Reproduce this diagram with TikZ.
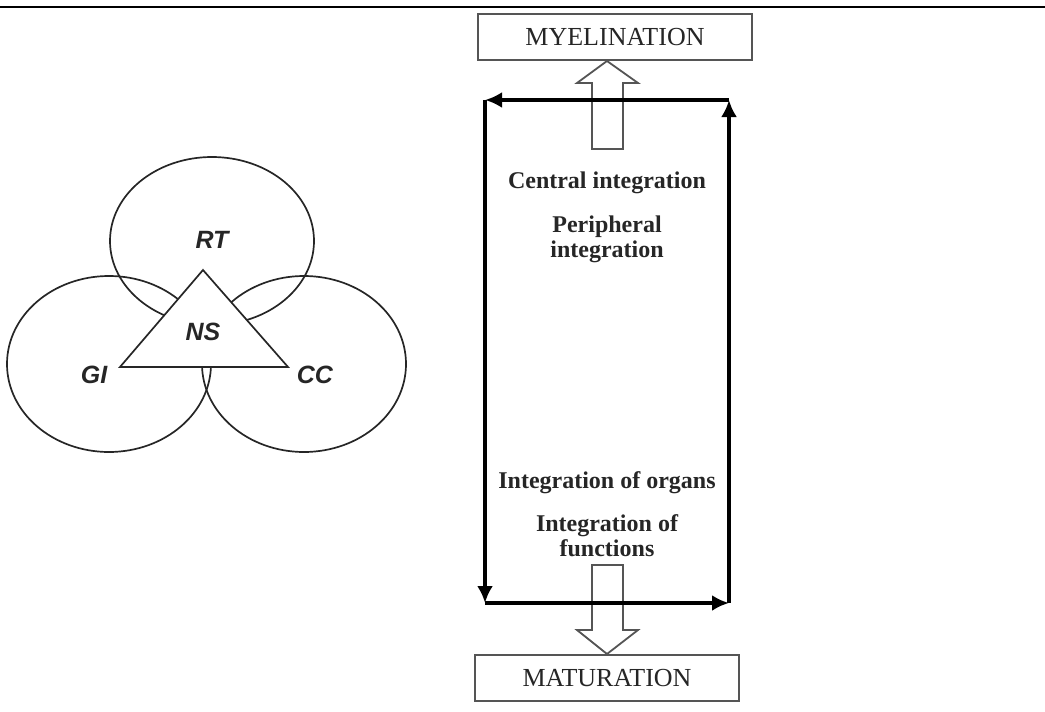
\documentclass[tikz,border=0pt]{standalone}
\usepackage{fontspec}
\setmainfont{Liberation Serif}
\newfontfamily\lblfont{Liberation Sans}
\usetikzlibrary{arrows.meta,shapes.geometric}
\definecolor{ink}{HTML}{262626}
\definecolor{edge}{HTML}{555555}
\begin{document}
\begin{tikzpicture}[x=1pt,y=-1pt,
  ell/.style={draw=ink,line width=1.7pt},
  venlbl/.style={font=\lblfont\bfseries\itshape\fontsize{25}{27}\selectfont,text=ink,inner sep=0pt},
  capbox/.style={draw=edge,line width=1.8pt,fill=white,minimum height=46pt,inner sep=0pt,font=\fontsize{26}{28}\selectfont,text=ink},
  looptext/.style={font=\bfseries\fontsize{24}{25}\selectfont,text=ink,align=center,inner sep=0pt},
  loop/.style={draw=black,line width=4pt,-{Latex[length=17pt,width=16pt]}},
  hollow/.style={draw=edge,line width=1.8pt,fill=white,line join=miter}]
\useasboundingbox (0,0) rectangle (1045,712);
\draw[line width=1.5pt,black] (0,7) -- (1045,7);
% Venn
\node[ell,ellipse,minimum width=204pt,minimum height=168pt,inner sep=0pt] (rt) at (212,241) {};
\node[ell,ellipse,minimum width=204pt,minimum height=176pt,inner sep=0pt] (gi) at (109,364) {};
\node[ell,ellipse,minimum width=204pt,minimum height=176pt,inner sep=0pt] (cc) at (304,364) {};
\coordinate (apex) at (203,270);
\coordinate (bl) at (120,367);
\coordinate (br) at (288,367);
\draw[ell,fill=white,line join=miter] (apex) -- (bl) -- (br) -- cycle;
\node[venlbl] (rtl) at (212,240) {RT};
\node[venlbl] (nsl) at (203,332) {NS};
\node[venlbl] (gil) at (94,375) {GI};
\node[venlbl] (ccl) at (315,375) {CC};
% boxes
\node[capbox,minimum width=274pt] (mye) at (615,37) {MYELINATION};
\node[capbox,minimum width=264pt] (mat) at (607,678) {MATURATION};
% hollow arrows
\draw[hollow] (592,149) -- (592,83) -- (577,83) -- (607,61) -- (638,83) -- (623,83) -- (623,149) -- cycle;
\draw[hollow] (592,565) -- (592,630) -- (577,630) -- (607,654) -- (638,630) -- (623,630) -- (623,565) -- cycle;
% loop
\coordinate (ltl) at (485,100);
\coordinate (ltr) at (729,100);
\coordinate (lbl) at (485,603);
\coordinate (lbr) at (729,603);
\draw[loop] (lbr) -- (ltr);
\draw[loop] (ltr) -- (ltl);
\draw[loop] (ltl) -- (lbl);
\draw[loop] (lbl) -- (lbr);
% texts
\node[looptext] (ci) at (607,183) {Central integration};
\node[looptext] (pi) at (607,239) {Peripheral\\integration};
\node[looptext] (io) at (607,483) {Integration of organs};
\node[looptext] (ifn) at (607,536) {Integration of\\functions};
\end{tikzpicture}
\end{document}
